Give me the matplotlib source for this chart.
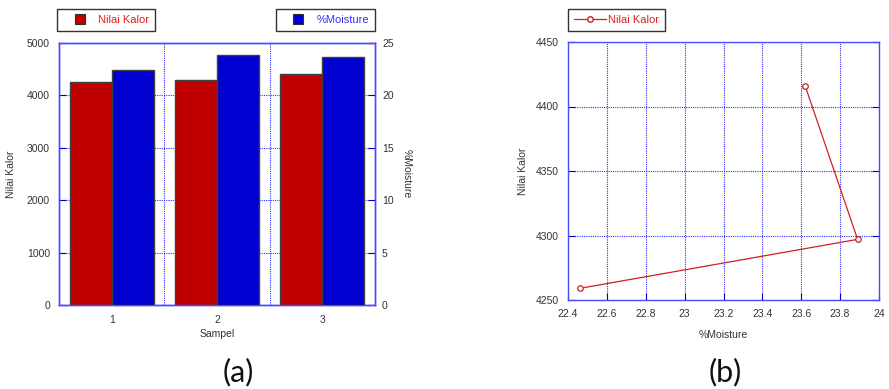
import matplotlib
matplotlib.use("Agg")
import matplotlib.pyplot as plt
from matplotlib.lines import Line2D

samples = ["1", "2", "3"]
nilai_kalor = [4259, 4297, 4416]
moisture = [22.46, 23.89, 23.62]

RED = "#c00000"
BLUE = "#0000d0"
SPINE = "#4a4aff"
GRID = "#3030ff"
TXT = "#333333"
FS = 7.5

plt.rcParams['font.family'] = ['Liberation Sans', 'DejaVu Sans']
W, H = 889, 389
fig = plt.figure(figsize=(W / 100, H / 100), dpi=100)

def ax_rect(x0, y0, x1, y1):
    return [x0 / W, 1 - y1 / H, (x1 - x0) / W, (y1 - y0) / H]

# ---------- (a) bar chart ----------
ax = fig.add_axes(ax_rect(59, 43, 375, 305))
ax2 = ax.twinx()
xs = [1, 2, 3]
bw = 0.4
ax.bar([x - bw / 2 for x in xs], nilai_kalor, width=bw, color=RED,
       edgecolor="#404040", linewidth=1.0, zorder=3)
ax2.bar([x + bw / 2 for x in xs], moisture, width=bw, color=BLUE,
        edgecolor="#404040", linewidth=1.0, zorder=3)
ax.set_xlim(0.5, 3.5)
ax.set_ylim(0, 5000)
ax2.set_ylim(0, 25)
ax.set_xticks(xs)
ax.set_xticklabels(samples)
ax.set_xticks([1.5, 2.5], minor=True)
ax.set_yticks(range(0, 5001, 1000))
ax2.set_yticks(range(0, 26, 5))
ax.yaxis.grid(True, linestyle=(0, (1, 1)), color=GRID, linewidth=0.8)
ax.xaxis.grid(True, which='minor', linestyle=(0, (1, 1)), color=GRID, linewidth=0.8)
ax.xaxis.grid(False, which='major')
ax.set_axisbelow(True)
ax2.grid(False)
ax.tick_params(axis='x', which='both', length=0, labelsize=FS, colors=TXT, pad=7)
ax.tick_params(axis='y', direction='in', length=5, color=BLUE, labelsize=FS,
               labelcolor=TXT, pad=6.5)
ax2.tick_params(axis='y', direction='in', length=5, color=BLUE, labelsize=FS,
                labelcolor=TXT, pad=5)
for a in (ax, ax2):
    for s in a.spines.values():
        s.set_color(SPINE)
        s.set_linewidth(1.0)
ax.set_xlabel("Sampel", fontsize=FS, color=TXT, labelpad=3)
ax.set_ylabel("Nilai Kalor", fontsize=FS, color=TXT, labelpad=8)
ax2.set_ylabel("%Moisture", fontsize=FS, color=TXT, rotation=-90, labelpad=13)

def sq_handle(c):
    return Line2D([0], [0], linestyle='none', marker='s', markersize=6.5,
                  markerfacecolor=c, markeredgecolor="#303030", markeredgewidth=0.8)

common = dict(fontsize=8, fancybox=False, edgecolor="#333333", framealpha=1,
              borderaxespad=0, borderpad=0.55)
leg1 = fig.legend(handles=[sq_handle(RED)], labels=["Nilai Kalor"], loc="upper left",
                  bbox_to_anchor=(57 / W, 1 - 9 / H), handlelength=3.0,
                  handletextpad=0.1, **common)
for t in leg1.get_texts():
    t.set_color("#e02020")
leg1.get_frame().set_linewidth(1.0)
leg2 = fig.legend(handles=[sq_handle(BLUE)], labels=["%Moisture"], loc="upper right",
                  bbox_to_anchor=(375 / W, 1 - 9 / H), handlelength=3.0,
                  handletextpad=0.1, **common)
for t in leg2.get_texts():
    t.set_color("#3030ff")
leg2.get_frame().set_linewidth(1.0)

# ---------- (b) line chart ----------
bx = fig.add_axes(ax_rect(568, 42, 879, 300))
bx.plot(moisture, nilai_kalor, color="#d02020", linewidth=0.9, marker='o',
        markersize=4, markerfacecolor='white', markeredgecolor="#d02020",
        markeredgewidth=0.9, zorder=3)
bx.set_xlim(22.4, 24)
bx.set_ylim(4250, 4450)
bx.set_xticks([22.4, 22.6, 22.8, 23, 23.2, 23.4, 23.6, 23.8, 24])
bx.set_xticklabels(["22.4", "22.6", "22.8", "23", "23.2", "23.4", "23.6", "23.8", "24"])
bx.set_yticks([4250, 4300, 4350, 4400, 4450])
bx.grid(True, linestyle=(0, (1, 1)), color=GRID, linewidth=0.8)
bx.tick_params(direction='in', length=5, color=BLUE, labelsize=FS, labelcolor=TXT,
               pad=6.5, right=True)
for s in bx.spines.values():
    s.set_color(SPINE)
    s.set_linewidth(1.0)
bx.set_xlabel("%Moisture", fontsize=FS, color=TXT, labelpad=8)
bx.set_ylabel("Nilai Kalor", fontsize=FS, color=TXT, labelpad=5.5)
leg3 = fig.legend(handles=[Line2D([0], [0], color="#d02020", linewidth=0.9, marker='o',
                                  markersize=4, markerfacecolor='white',
                                  markeredgecolor="#d02020")],
                  labels=["Nilai Kalor"], loc="upper left",
                  bbox_to_anchor=(568 / W, 1 - 9 / H), handlelength=2.9,
                  handletextpad=0.15, **common)
for t in leg3.get_texts():
    t.set_color("#e02020")
leg3.get_frame().set_linewidth(1.0)

fig.text(238 / W, 1 - 372 / H, "(a)", fontsize=22, color="#111111",
         ha='center', va='center', family=['Lato', 'DejaVu Sans'])
fig.text(725 / W, 1 - 372 / H, "(b)", fontsize=22, color="#111111",
         ha='center', va='center', family=['Lato', 'DejaVu Sans'])

fig.savefig("out.png", dpi=100)
